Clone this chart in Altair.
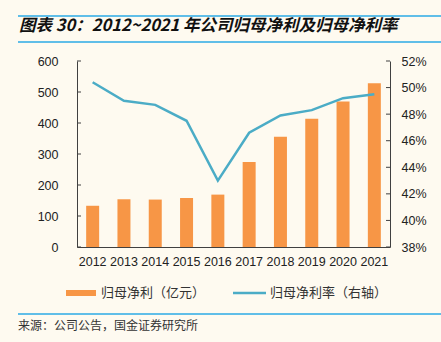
import altair as alt
import pandas as pd

years = ["2012", "2013", "2014", "2015", "2016", "2017", "2018", "2019", "2020", "2021"]
profit = [133, 154, 153, 158, 169, 274, 356, 414, 469, 528]
margin_pct = [50.4, 49.0, 48.7, 47.5, 43.0, 46.6, 47.9, 48.3, 49.2, 49.5]
left_ticks = [0, 100, 200, 300, 400, 500, 600]
right_ticks_pct = [38, 40, 42, 44, 46, 48, 50, 52]

title_text = "图表 30：2012~2021 年公司归母净利及归母净利率"
legend_bar = "归母净利（亿元）"
legend_line = "归母净利率（右轴）"
source_text = "来源：公司公告，国金证券研究所"

df = pd.DataFrame({"year": years, "profit": profit, "margin": [m / 100 for m in margin_pct]})
lt = pd.DataFrame({"v": left_ticks})
rt = pd.DataFrame({"v": [r / 100 for r in right_ticks_pct]})

W, H = 313, 186
AX = "#404040"
NUMFONT = "Liberation Sans"
CJK = "Noto Sans CJK SC"
LDOM = [0, 600]
RDOM = [0.38, 0.52]

x_enc = alt.X("year:N", sort=years,
              scale=alt.Scale(paddingInner=0, paddingOuter=0),
              axis=alt.Axis(title=None, labelAngle=0, ticks=False, tickSize=0,
                            domainColor=AX, labelFontSize=12.5, labelColor="#222",
                            labelFont=NUMFONT, labelPadding=8))

base = alt.Chart(df)
bars = base.mark_bar(size=13, color="#F79646").encode(
    x=x_enc,
    y=alt.Y("profit:Q", scale=alt.Scale(domain=LDOM, nice=False),
            axis=alt.Axis(orient="left", values=left_ticks, title=None, grid=False,
                          ticks=False, tickSize=0, labelPadding=19, domainColor=AX,
                          labelFont=NUMFONT, labelFontSize=12.5, labelColor="#222")),
)
line = base.mark_line(color="#4BACC6", strokeWidth=2.5).encode(
    x=alt.X("year:N", sort=years),
    y=alt.Y("margin:Q", scale=alt.Scale(domain=RDOM, nice=False),
            axis=alt.Axis(orient="right", values=[r / 100 for r in right_ticks_pct],
                          format=".0%", title=None, grid=False, ticks=False, tickSize=0,
                          labelPadding=11, domainColor=AX, labelFont=NUMFONT,
                          labelFontSize=12.5, labelColor="#222")),
)
lticks = alt.Chart(lt).mark_rule(color=AX).encode(
    y=alt.Y("v:Q", scale=alt.Scale(domain=LDOM, nice=False), axis=None),
    x=alt.value(0), x2=alt.value(4))
rticks = alt.Chart(rt).mark_rule(color=AX).encode(
    y=alt.Y("v:Q", scale=alt.Scale(domain=RDOM, nice=False), axis=None),
    x=alt.value(W - 4), x2=alt.value(W))

one = alt.Data(values=[{}])
SEP = "#2BAAE6"
sep1 = alt.Chart(one).mark_rule(color=SEP, strokeWidth=1.5).encode(
    x=alt.value(-59), x2=alt.value(364), y=alt.value(-45))
sep2 = alt.Chart(one).mark_rule(color=SEP, strokeWidth=1.5).encode(
    x=alt.value(-59), x2=alt.value(364), y=alt.value(-19))
sep3 = alt.Chart(one).mark_rule(color=SEP, strokeWidth=1.5).encode(
    x=alt.value(-59), x2=alt.value(364), y=alt.value(253))

title = alt.Chart(one).mark_text(text=title_text, font=CJK, fontSize=16.5, fontWeight="bold",
                                 fontStyle="italic", color="#111", align="left",
                                 baseline="middle").encode(x=alt.value(-58), y=alt.value(-35))
src = alt.Chart(one).mark_text(text=source_text, font=CJK, fontSize=12, color="#333",
                               align="left", baseline="middle").encode(
    x=alt.value(-59), y=alt.value(265))

leg_sw1 = alt.Chart(one).mark_rule(color="#F79646", strokeWidth=6).encode(
    x=alt.value(-11), x2=alt.value(19), y=alt.value(232))
leg_tx1 = alt.Chart(one).mark_text(text=legend_bar, font=CJK, fontSize=13, color="#333",
                                   align="left", baseline="middle").encode(
    x=alt.value(24), y=alt.value(232))
leg_sw2 = alt.Chart(one).mark_rule(color="#4BACC6", strokeWidth=2.5).encode(
    x=alt.value(156), x2=alt.value(189), y=alt.value(232))
leg_tx2 = alt.Chart(one).mark_text(text=legend_line, font=CJK, fontSize=13, color="#333",
                                   align="left", baseline="middle").encode(
    x=alt.value(193), y=alt.value(232))

chart = alt.layer(
    bars, line, lticks, rticks, sep1, sep2, sep3, title, src,
    leg_sw1, leg_tx1, leg_sw2, leg_tx2
).resolve_scale(y="independent").properties(
    width=W, height=H,
    autosize=alt.AutoSizeParams(type="none"),
    padding={"left": 77, "top": 61, "right": 51, "bottom": 95},
    background="#FEFAF0",
).configure_view(stroke=None)

chart.save("out.html", embed_options={"renderer": "svg", "actions": False})
